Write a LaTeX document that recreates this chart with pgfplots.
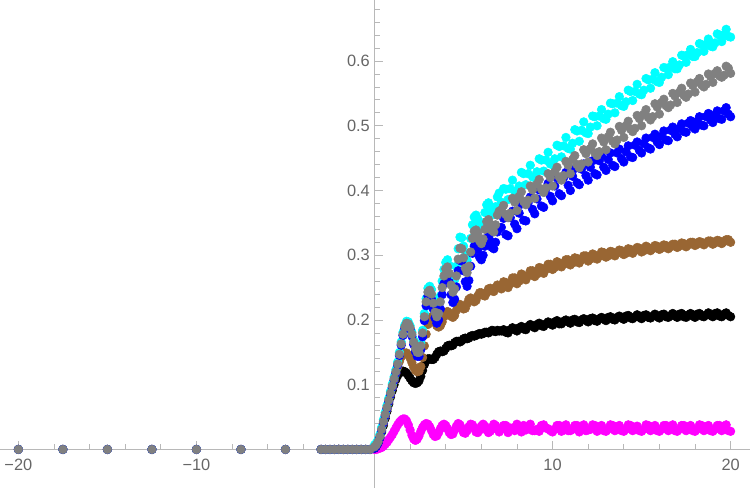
\documentclass[border=0pt]{standalone}
\usepackage{pgfplots}
\usepackage{pgfplotstable}
\pgfplotsset{compat=1.18}
\usepackage{fontspec}
\setmainfont{Liberation Sans}
\definecolor{axgray}{gray}{0.72}
\definecolor{lblgray}{gray}{0.4}
\definecolor{mbrown}{rgb}{0.6,0.4,0.2}
\definecolor{mcyan}{rgb}{0,1,1}
\definecolor{mmag}{rgb}{1,0,1}
\definecolor{mblue}{rgb}{0,0,1}
\definecolor{mgray}{rgb}{0.5,0.5,0.5}
\pgfplotstableread{
x m k b c u g
-20 0 0 0 0 0 0
-17.5 0 0 0 0 0 0
-15 0 0 0 0 0 0
-12.5 0 0 0 0 0 0
-10 0 0 0 0 0 0
-7.5 0 0 0 0 0 0
-5 0 0 0 0 0 0
-3 0 0 0 0 0 0
-2.75 0 0 0 0 0 0
-2.5 0 0 0 0 0 0
-2.25 0 0 0 0 0 0
-2 0 0 0 0 0 0
-1.75 0 0 0 0 0 0
-1.5 0 0 0 0 0 0
-1.25 0 0 0 0 0 0
-1 0 0 0 0 0 0
-0.75 0 0 0 0 0 0
-0.5 0 0 0 0 0 0
-0.25 0 0 0 0 0 0
0.0 0.000 0.002 0.003 0.007 0.002 0.004
0.1 0.000 0.005 0.006 0.010 0.005 0.007
0.2 0.001 0.010 0.011 0.015 0.010 0.012
0.3 0.002 0.018 0.019 0.023 0.018 0.020
0.4 0.003 0.027 0.029 0.034 0.029 0.031
0.5 0.005 0.037 0.040 0.046 0.041 0.043
0.6 0.008 0.048 0.051 0.057 0.052 0.054
0.7 0.011 0.059 0.062 0.068 0.063 0.065
0.8 0.015 0.070 0.073 0.079 0.074 0.076
0.9 0.019 0.081 0.084 0.090 0.085 0.087
1.0 0.023 0.091 0.095 0.101 0.096 0.098
1.1 0.028 0.100 0.106 0.112 0.107 0.109
1.2 0.033 0.108 0.117 0.123 0.118 0.120
1.3 0.038 0.114 0.127 0.135 0.130 0.132
1.4 0.042 0.118 0.136 0.150 0.145 0.147
1.5 0.045 0.120 0.143 0.166 0.161 0.163
1.6 0.047 0.121 0.147 0.181 0.176 0.178
1.7 0.047 0.120 0.149 0.192 0.187 0.189
1.8 0.044 0.118 0.149 0.198 0.193 0.195
1.9 0.038 0.114 0.146 0.197 0.192 0.194
2.0 0.030 0.110 0.141 0.191 0.186 0.188
2.1 0.022 0.106 0.134 0.181 0.175 0.178
2.2 0.016 0.103 0.127 0.169 0.162 0.166
2.3 0.014 0.102 0.122 0.159 0.151 0.156
2.4 0.016 0.103 0.120 0.153 0.144 0.150
2.5 0.021 0.106 0.121 0.153 0.144 0.150
2.6 0.028 0.113 0.128 0.164 0.154 0.160
2.7 0.034 0.122 0.142 0.184 0.174 0.180
2.8 0.038 0.131 0.160 0.210 0.199 0.205
2.9 0.040 0.137 0.178 0.233 0.222 0.228
3.0 0.039 0.140 0.193 0.249 0.237 0.243
3.1 0.035 0.140 0.202 0.252 0.239 0.246
3.2 0.029 0.139 0.205 0.247 0.232 0.240
3.3 0.023 0.139 0.202 0.233 0.217 0.226
3.4 0.020 0.142 0.196 0.220 0.203 0.212
3.5 0.021 0.147 0.191 0.213 0.195 0.205
3.6 0.026 0.151 0.189 0.219 0.200 0.210
3.7 0.032 0.152 0.191 0.237 0.217 0.228
3.8 0.037 0.151 0.197 0.260 0.239 0.250
3.9 0.039 0.152 0.205 0.278 0.256 0.268
4.0 0.037 0.156 0.211 0.289 0.267 0.279
4.1 0.032 0.160 0.213 0.293 0.269 0.282
4.2 0.026 0.161 0.211 0.284 0.258 0.272
4.3 0.023 0.160 0.206 0.267 0.239 0.254
4.4 0.024 0.161 0.204 0.256 0.227 0.243
4.5 0.030 0.165 0.207 0.262 0.232 0.248
4.6 0.036 0.167 0.215 0.283 0.251 0.268
4.7 0.040 0.167 0.222 0.310 0.276 0.294
4.8 0.038 0.166 0.224 0.328 0.292 0.311
4.9 0.032 0.168 0.221 0.327 0.291 0.310
5.0 0.026 0.171 0.217 0.314 0.276 0.296
5.1 0.025 0.172 0.218 0.299 0.259 0.280
5.2 0.029 0.171 0.225 0.292 0.252 0.273
5.3 0.035 0.172 0.232 0.303 0.261 0.283
5.4 0.039 0.175 0.234 0.326 0.283 0.305
5.5 0.038 0.176 0.231 0.347 0.303 0.326
5.6 0.033 0.175 0.228 0.359 0.314 0.337
5.7 0.027 0.176 0.230 0.362 0.315 0.339
5.8 0.026 0.178 0.237 0.356 0.309 0.333
5.9 0.030 0.179 0.242 0.346 0.297 0.322
6.0 0.036 0.178 0.242 0.343 0.293 0.318
6.1 0.039 0.179 0.238 0.350 0.300 0.325
6.2 0.036 0.181 0.237 0.366 0.314 0.340
6.3 0.030 0.181 0.242 0.378 0.326 0.352
6.4 0.026 0.180 0.248 0.381 0.329 0.355
6.5 0.028 0.182 0.249 0.375 0.322 0.348
6.6 0.034 0.184 0.245 0.365 0.312 0.338
6.7 0.039 0.183 0.244 0.363 0.310 0.336
6.8 0.037 0.182 0.250 0.375 0.320 0.347
6.9 0.031 0.184 0.254 0.390 0.336 0.362
7.0 0.027 0.183 0.252 0.396 0.342 0.368
7.25 0.037 0.185 0.259 0.403 0.357 0.377
7.5 0.026 0.180 0.250 0.386 0.330 0.358
7.75 0.033 0.188 0.265 0.416 0.368 0.388
8.0 0.039 0.183 0.256 0.398 0.341 0.369
8.25 0.027 0.190 0.271 0.428 0.379 0.398
8.5 0.030 0.185 0.262 0.409 0.353 0.378
8.75 0.039 0.193 0.276 0.439 0.390 0.407
9.0 0.029 0.188 0.267 0.420 0.364 0.388
9.25 0.028 0.195 0.281 0.449 0.401 0.417
9.5 0.038 0.190 0.272 0.430 0.374 0.397
9.75 0.032 0.197 0.286 0.459 0.411 0.426
10.0 0.027 0.192 0.278 0.440 0.384 0.407
10.25 0.037 0.199 0.290 0.470 0.420 0.436
10.5 0.028 0.194 0.282 0.452 0.392 0.416
10.75 0.038 0.200 0.293 0.482 0.428 0.445
11.0 0.029 0.195 0.285 0.464 0.400 0.426
11.25 0.037 0.201 0.296 0.494 0.434 0.454
11.5 0.027 0.196 0.288 0.476 0.409 0.435
11.75 0.038 0.202 0.299 0.506 0.441 0.463
12.0 0.030 0.197 0.291 0.488 0.416 0.444
12.25 0.038 0.203 0.302 0.515 0.446 0.472
12.5 0.028 0.198 0.294 0.500 0.424 0.454
12.75 0.037 0.204 0.305 0.525 0.453 0.481
13.0 0.028 0.199 0.297 0.510 0.431 0.463
13.25 0.038 0.205 0.306 0.535 0.458 0.490
13.5 0.029 0.200 0.299 0.520 0.437 0.472
13.75 0.037 0.206 0.308 0.545 0.464 0.499
14.0 0.028 0.201 0.301 0.530 0.444 0.482
14.25 0.038 0.207 0.310 0.555 0.469 0.507
14.5 0.029 0.202 0.303 0.539 0.451 0.491
14.75 0.036 0.208 0.312 0.564 0.475 0.516
15.0 0.028 0.202 0.305 0.548 0.458 0.500
15.25 0.038 0.208 0.314 0.573 0.481 0.525
15.5 0.029 0.203 0.307 0.558 0.464 0.509
15.75 0.037 0.209 0.315 0.582 0.487 0.534
16.0 0.028 0.203 0.309 0.567 0.471 0.518
16.25 0.037 0.209 0.316 0.590 0.492 0.541
16.5 0.029 0.204 0.310 0.579 0.477 0.528
16.75 0.038 0.210 0.317 0.599 0.498 0.550
17.0 0.028 0.204 0.312 0.588 0.483 0.536
17.25 0.037 0.210 0.319 0.609 0.503 0.558
17.5 0.029 0.204 0.313 0.598 0.490 0.544
17.75 0.037 0.210 0.320 0.618 0.508 0.566
18.0 0.028 0.204 0.315 0.607 0.495 0.552
18.25 0.038 0.210 0.321 0.627 0.514 0.573
18.5 0.029 0.205 0.316 0.615 0.500 0.560
18.75 0.037 0.211 0.322 0.634 0.519 0.580
19.0 0.028 0.205 0.317 0.622 0.505 0.567
19.25 0.037 0.211 0.323 0.642 0.523 0.585
19.5 0.029 0.205 0.318 0.630 0.510 0.575
19.75 0.038 0.211 0.324 0.649 0.528 0.592
20.0 0.028 0.205 0.320 0.637 0.514 0.581
7.125 0.031 0.183 0.248 0.382 0.343 0.370
7.375 0.037 0.181 0.258 0.402 0.332 0.363
7.625 0.033 0.185 0.256 0.403 0.358 0.365
7.875 0.029 0.185 0.265 0.399 0.348 0.382
8.125 0.031 0.188 0.260 0.407 0.365 0.391
8.375 0.037 0.186 0.269 0.426 0.354 0.383
8.625 0.033 0.190 0.268 0.426 0.381 0.385
8.875 0.029 0.190 0.276 0.421 0.371 0.401
9.125 0.031 0.193 0.271 0.429 0.387 0.410
9.375 0.037 0.191 0.280 0.447 0.376 0.402
9.625 0.033 0.194 0.278 0.447 0.402 0.404
9.875 0.029 0.194 0.286 0.441 0.391 0.420
10.125 0.031 0.197 0.281 0.449 0.407 0.429
10.375 0.037 0.194 0.288 0.468 0.395 0.421
10.625 0.033 0.198 0.286 0.469 0.420 0.423
10.875 0.029 0.197 0.293 0.465 0.408 0.439
11.125 0.031 0.200 0.288 0.473 0.422 0.448
11.375 0.037 0.197 0.295 0.492 0.412 0.440
11.625 0.033 0.200 0.293 0.493 0.433 0.441
11.875 0.029 0.199 0.299 0.489 0.423 0.457
12.125 0.031 0.202 0.294 0.498 0.436 0.465
12.375 0.037 0.199 0.300 0.514 0.426 0.458
12.625 0.033 0.202 0.298 0.515 0.446 0.460
12.875 0.029 0.201 0.304 0.511 0.436 0.475
13.125 0.031 0.204 0.299 0.518 0.448 0.483
13.375 0.037 0.201 0.305 0.534 0.439 0.476
13.625 0.033 0.204 0.303 0.535 0.458 0.478
13.875 0.029 0.203 0.307 0.531 0.449 0.493
14.125 0.031 0.206 0.303 0.537 0.460 0.500
14.375 0.037 0.203 0.309 0.553 0.452 0.495
14.625 0.033 0.205 0.307 0.553 0.470 0.496
14.875 0.029 0.204 0.311 0.549 0.462 0.511
15.125 0.031 0.207 0.307 0.555 0.473 0.518
15.375 0.037 0.204 0.312 0.571 0.466 0.513
15.625 0.033 0.206 0.310 0.572 0.482 0.514
15.875 0.029 0.205 0.314 0.568 0.475 0.529
16.125 0.031 0.208 0.311 0.575 0.484 0.536
16.375 0.037 0.205 0.315 0.589 0.478 0.531
16.625 0.033 0.207 0.313 0.591 0.493 0.532
16.875 0.029 0.206 0.317 0.588 0.487 0.546
17.125 0.031 0.209 0.314 0.594 0.496 0.552
17.375 0.037 0.205 0.318 0.608 0.491 0.547
17.625 0.033 0.208 0.316 0.610 0.504 0.549
17.875 0.029 0.206 0.320 0.607 0.498 0.562
18.125 0.031 0.209 0.317 0.613 0.507 0.568
18.375 0.037 0.206 0.320 0.625 0.501 0.563
18.625 0.033 0.208 0.319 0.626 0.514 0.564
18.875 0.029 0.207 0.322 0.623 0.509 0.576
19.125 0.031 0.210 0.319 0.628 0.517 0.581
19.375 0.037 0.206 0.322 0.640 0.511 0.577
19.625 0.033 0.209 0.321 0.641 0.523 0.578
19.875 0.029 0.207 0.324 0.638 0.518 0.589
}\data
\begin{document}
\begin{tikzpicture}
\begin{axis}[
  scale only axis, width=562.5pt, height=366pt,
  xmin=-21.01, xmax=21.066, ymin=-0.0594, ymax=0.6937,
  axis lines=middle,
  axis line style={axgray, line width=0.6pt, -},
  xtick={-20,-10,10,20}, xticklabels={−20,−10,10,20},
  minor xtick={-18,-16,-14,-12,-8,-6,-4,-2,2,4,6,8,12,14,16,18},
  ytick={0.1,0.2,0.3,0.4,0.5,0.6}, yticklabels={0.1,0.2,0.3,0.4,0.5,0.6},
  minor ytick={0.02,0.04,0.06,0.08,0.12,0.14,0.16,0.18,0.22,0.24,0.26,0.28,0.32,0.34,0.36,0.38,0.42,0.44,0.46,0.48,0.52,0.54,0.56,0.58,0.62,0.64,0.66,0.68},
  tick style={axgray, line width=0.6pt},
  major tick length=6.5pt, minor tick length=4pt,
  tick align=inside,
  ticklabel style={font=\fontsize{12.3}{14}\selectfont, text=lblgray},
  xticklabel style={yshift=-4pt},
  clip=false,
  every axis plot/.append style={only marks, mark=*, mark size=3.25pt, mark options={draw=none}},
]
\addplot[color=mmag] table[x=x,y=m]{\data};
\addplot[color=black] table[x=x,y=k]{\data};
\addplot[color=mbrown] table[x=x,y=b]{\data};
\addplot[color=mcyan] table[x=x,y=c]{\data};
\addplot[color=mblue] table[x=x,y=u]{\data};
\addplot[color=mgray] table[x=x,y=g]{\data};
\end{axis}
\end{tikzpicture}
\end{document}
